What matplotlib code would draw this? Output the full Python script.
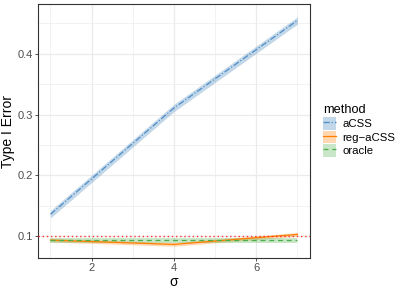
import matplotlib
matplotlib.use("Agg")
import matplotlib.pyplot as plt
from matplotlib.patches import Patch
from matplotlib.lines import Line2D
import numpy as np

plt.rcParams['font.family'] = ['Liberation Sans', 'DejaVu Sans']

sigma = [1, 4, 7]
methods = ["aCSS", "reg\u2212aCSS", "oracle"]
acss = [0.136, 0.311, 0.455]
acss_se = [0.006, 0.006, 0.006]
reg_acss = [0.0935, 0.0865, 0.103]
reg_se = [0.003, 0.003, 0.003]
oracle = [0.093, 0.093, 0.093]
oracle_se = [0.0035, 0.0035, 0.0035]
nominal = 0.1

line_colors = ["#4F8CC9", "#FF7F00", "#4DAF4A"]
fill_colors = ["#377EB8", "#FF7F00", "#4DAF4A"]
styles = [(0, (5, 1.5, 1, 1.5)), "-", (0, (4, 3))]

fig = plt.figure(figsize=(4.05, 2.89), dpi=100)
ax = fig.add_axes([0.094, 0.107, 0.671, 0.879])

series = [acss, reg_acss, oracle]
ses = [acss_se, reg_se, oracle_se]
x = np.array(sigma)
for vals, se, lc, fc, ls in zip(series, ses, line_colors, fill_colors, styles):
    v = np.array(vals); s = np.array(se)
    ax.fill_between(x, v - s, v + s, color=fc, alpha=0.3, linewidth=0, zorder=2)
    ax.plot(x, v, color=lc, linestyle=ls, linewidth=0.9, zorder=3)

ax.axhline(nominal, color="#FF3030", linestyle=(0, (1, 2)), linewidth=1.0, zorder=4)

ax.set_xlim(0.7, 7.3)
ax.set_ylim(0.064, 0.482)
ax.set_xticks([2, 4, 6])
ax.set_xticks([1, 3, 5, 7], minor=True)
ax.set_yticks([0.1, 0.2, 0.3, 0.4])
ax.set_yticklabels(["0.1", "0.2", "0.3", "0.4"])
ax.set_yticks([0.15, 0.25, 0.35, 0.45], minor=True)
ax.grid(which="major", color="#EBEBEB", linewidth=0.9, zorder=0)
ax.grid(which="minor", color="#EBEBEB", linewidth=0.45, zorder=0)
ax.set_axisbelow(True)
ax.tick_params(which="major", length=2.2, width=0.6, color="#333333", labelsize=8,
               labelcolor="#4D4D4D", pad=1.5)
ax.tick_params(which="minor", length=0)
for sp in ax.spines.values():
    sp.set_color("#333333"); sp.set_linewidth(0.8)

ax.set_xlabel("\u03c3", fontsize=10, labelpad=1)
ax.set_ylabel("Type I Error", fontsize=10, labelpad=2)

handles = []
for lc, fc, ls in zip(line_colors, fill_colors, styles):
    handles.append((Patch(facecolor=fc, alpha=0.3, edgecolor="none"),
                    Line2D([], [], color=lc, linestyle=ls, linewidth=0.9)))
leg = fig.legend(handles, methods, title="method", loc="upper left",
                 bbox_to_anchor=(0.797, 0.64), frameon=False, fontsize=8.2,
                 title_fontsize=9.2, handlelength=1.2, handleheight=1.3,
                 handletextpad=0.5, labelspacing=0.1, borderpad=0, borderaxespad=0)
leg._legend_box.align = "left"

fig.savefig("out.png", dpi=100)
